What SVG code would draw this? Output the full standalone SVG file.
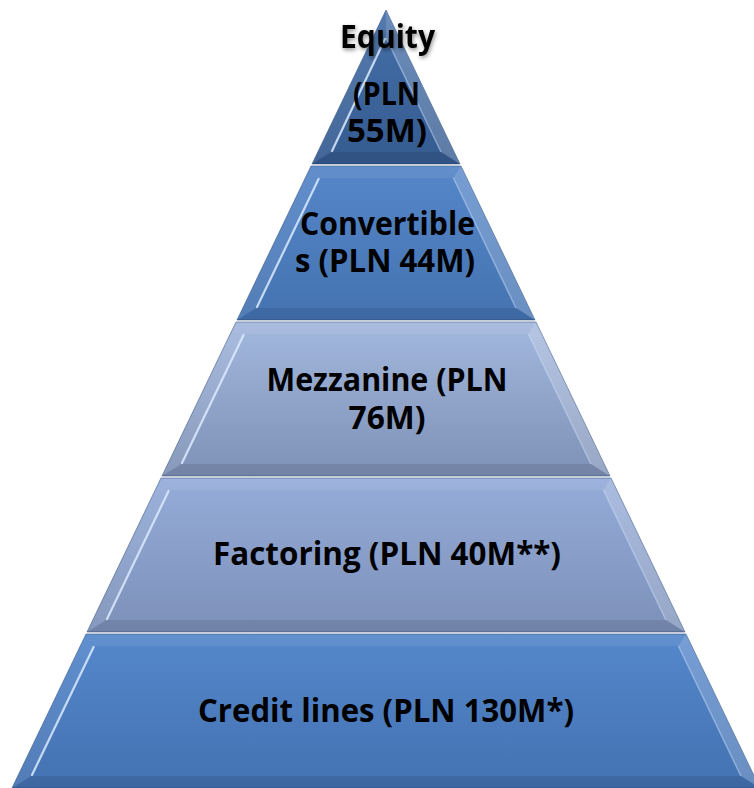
<svg xmlns="http://www.w3.org/2000/svg" width="754" height="788" viewBox="0 0 754 788">
<defs>
<linearGradient id="gEq" x1="0" y1="0" x2="0" y2="1"><stop offset="0" stop-color="#4570AA"/><stop offset="1" stop-color="#355B90"/></linearGradient>
<linearGradient id="gCv" x1="0" y1="0" x2="0" y2="1"><stop offset="0" stop-color="#5586C8"/><stop offset="1" stop-color="#4573B1"/></linearGradient>
<linearGradient id="gMz" x1="0" y1="0" x2="0" y2="1"><stop offset="0" stop-color="#A3B8DE"/><stop offset="1" stop-color="#7E91B6"/></linearGradient>
<linearGradient id="gFc" x1="0" y1="0" x2="0" y2="1"><stop offset="0" stop-color="#95ACD9"/><stop offset="1" stop-color="#7C90B8"/></linearGradient>
<linearGradient id="gCr" x1="0" y1="0" x2="0" y2="1"><stop offset="0" stop-color="#5487CB"/><stop offset="1" stop-color="#4472B2"/></linearGradient>
<filter id="sh" x="-20%" y="-40%" width="140%" height="180%"><feGaussianBlur in="SourceAlpha" stdDeviation="2"/><feOffset dx="1" dy="2" result="b"/><feComponentTransfer><feFuncA type="linear" slope="0.45"/></feComponentTransfer><feMerge><feMergeNode/><feMergeNode in="SourceGraphic"/></feMerge></filter>
</defs>
<style>
.outer{stroke:#2B4A78;stroke-opacity:0.55;stroke-width:1}
.ft{fill:#ffffff;fill-opacity:0.08}
.fl{fill:#ffffff;fill-opacity:0.08}
.fr{fill:#ffffff;fill-opacity:0.2}
.fb{fill:#000000;fill-opacity:0.09}
.hl{stroke:#DCEBFF;stroke-opacity:0.85;stroke-width:2.2;fill:none;stroke-linecap:round}
.hr{stroke:#CFE2FF;stroke-opacity:0.45;stroke-width:1.5;fill:none}
.lbl{font-family:"Open Sans",Lato,"Liberation Sans",sans-serif;font-weight:bold;font-size:32px;fill:#000000;text-anchor:middle}
</style>
<g id="credit">
<polygon class="outer" fill="url(#gCr)" points="86,634 686,634 760,788 12,788"/>
<polygon class="ft" points="86,634 686,634 678.4,646 93.6,646"/>
<polygon class="fl" points="86,634 93.6,646 31.1,776 12,788"/>
<polygon class="fr" points="686,634 760,788 740.9,776 678.4,646"/>
<polygon class="fb" points="12,788 760,788 740.9,776 31.1,776"/>
<line class="hl" x1="93.6" y1="647" x2="32" y2="775"/>
<line class="hr" x1="678.4" y1="646" x2="740.9" y2="776"/>
<text class="lbl" x="386" y="722" textLength="376" lengthAdjust="spacingAndGlyphs">Credit lines (PLN 130M*)</text>
</g>
<g id="factoring">
<polygon class="outer" fill="url(#gFc)" points="161,478 611,478 685,632 87,632"/>
<polygon class="ft" points="161,478 611,478 603.4,490 168.6,490"/>
<polygon class="fl" points="161,478 168.6,490 106.1,620 87,632"/>
<polygon class="fr" points="611,478 685,632 665.9,620 603.4,490"/>
<polygon class="fb" points="87,632 685,632 665.9,620 106.1,620"/>
<line class="hl" x1="168.6" y1="491" x2="107" y2="619"/>
<line class="hr" x1="603.4" y1="490" x2="665.9" y2="620"/>
<text class="lbl" x="387" y="565" textLength="348" lengthAdjust="spacingAndGlyphs">Factoring (PLN 40M**)</text>
</g>
<g id="mezzanine">
<polygon class="outer" fill="url(#gMz)" points="236,322 536,322 610,476 162,476"/>
<polygon class="ft" points="236,322 536,322 528.4,334 243.6,334"/>
<polygon class="fl" points="236,322 243.6,334 181.1,464 162,476"/>
<polygon class="fr" points="536,322 610,476 590.9,464 528.4,334"/>
<polygon class="fb" points="162,476 610,476 590.9,464 181.1,464"/>
<line class="hl" x1="243.6" y1="335" x2="182" y2="463"/>
<line class="hr" x1="528.4" y1="334" x2="590.9" y2="464"/>
<text class="lbl" x="387" y="391" textLength="241" lengthAdjust="spacingAndGlyphs">Mezzanine (PLN</text>
<text class="lbl" x="387" y="429" textLength="77" lengthAdjust="spacingAndGlyphs">76M)</text>
</g>
<g id="convertibles">
<polygon class="outer" fill="url(#gCv)" points="311,166 461,166 535,320 237,320"/>
<polygon class="ft" points="311,166 461,166 453.4,178 318.6,178"/>
<polygon class="fl" points="311,166 318.6,178 256.1,308 237,320"/>
<polygon class="fr" points="461,166 535,320 515.9,308 453.4,178"/>
<polygon class="fb" points="237,320 535,320 515.9,308 256.1,308"/>
<line class="hl" x1="318.6" y1="179" x2="257" y2="307"/>
<line class="hr" x1="453.4" y1="178" x2="515.9" y2="308"/>
<text class="lbl" x="387.5" y="235" textLength="175" lengthAdjust="spacingAndGlyphs">Convertible</text>
<text class="lbl" x="385" y="272" textLength="180" lengthAdjust="spacingAndGlyphs">s (PLN 44M)</text>
</g>
<g id="equity">
<polygon class="outer" fill="url(#gEq)" points="386,10 460,164 312,164"/>
<polygon class="fl" points="386,10 386,37.7 331,152 312,164"/>
<polygon class="fr" points="386,10 460,164 441,152 386,37.7"/>
<polygon class="fb" points="312,164 460,164 441,152 331,152"/>
<line class="hl" x1="385" y1="39" x2="332" y2="151"/>
<line class="hr" x1="386" y1="37.7" x2="441" y2="152"/>
<text class="lbl" x="387.5" y="48" textLength="95" lengthAdjust="spacingAndGlyphs" filter="url(#sh)">Equity</text>
<text class="lbl" x="386.5" y="105" textLength="67" lengthAdjust="spacingAndGlyphs">(PLN</text>
<text class="lbl" x="387" y="142" textLength="80" lengthAdjust="spacingAndGlyphs">55M)</text>
</g>
<g id="connectors"/>
</svg>
